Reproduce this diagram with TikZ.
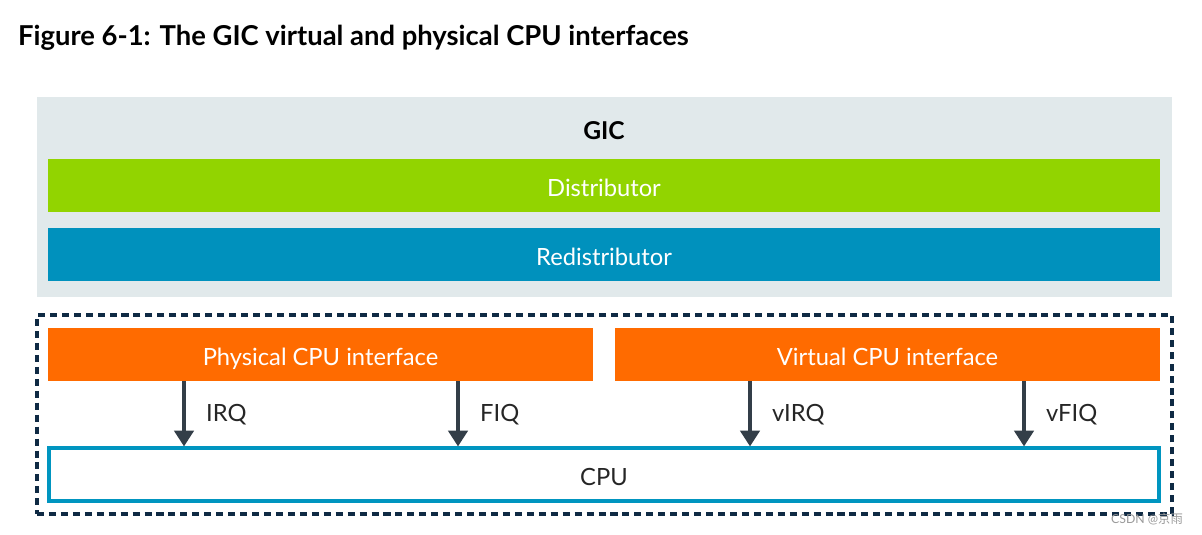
\documentclass[tikz,border=0pt]{standalone}
\usepackage{fontspec}
\setmainfont{Lato}
\newfontfamily\cjk{Noto Sans CJK SC}
\usetikzlibrary{positioning, arrows.meta, calc}

\definecolor{gicgrey}{HTML}{E1E9EB}
\definecolor{distgreen}{HTML}{92D400}
\definecolor{redistblue}{HTML}{0091BD}
\definecolor{ifaceorange}{HTML}{FF6B00}
\definecolor{cpublue}{HTML}{0095C0}
\definecolor{dashnavy}{HTML}{0F2A44}
\definecolor{arrowgrey}{HTML}{333E48}

\begin{document}
\begin{tikzpicture}[
  x=0.02cm, y=-0.02cm,
  bar/.style={minimum width=1112*0.02cm, minimum height=53*0.02cm, inner sep=0, text=white, text height=12pt, text depth=0pt, font=\fontsize{13.5}{16}\selectfont},
  half/.style={bar, minimum width=545*0.02cm, fill=ifaceorange},
  irq/.style={-{Triangle[width=11pt,length=9pt]}, line width=2pt, arrowgrey},
  irqlabel/.style={anchor=west, text height=12pt, text depth=0pt, font=\fontsize{13.5}{16}\selectfont, text=black!85},
  ]

  \useasboundingbox (0,0) rectangle (1202,534);

  \node[anchor=west, font=\fontsize{15.6}{18}\selectfont\bfseries] (title) at (12,38) {Figure 6-1: The GIC virtual and physical CPU interfaces};

  % GIC block
  \node[fill=gicgrey, minimum width=1135*0.02cm, minimum height=200*0.02cm, inner sep=0] (gic) at (604.5,197) {};
  \node[font=\fontsize{14}{16}\selectfont\bfseries] (giclabel) at (604,131) {GIC};
  \node[bar, fill=distgreen] (dist) at (604,185.5) {Distributor};
  \node[bar, fill=redistblue] (redist) at (604,254.5) {Redistributor};

  % CPU side
  \node[draw=dashnavy, dash pattern=on 4pt off 2.8pt, line width=2.2pt, minimum width=1135*0.02cm, minimum height=199*0.02cm, inner sep=0] (core) at (604.5,414.5) {};
  \node[half] (phys) at (320.5,354.5) {Physical CPU interface};
  \node[half] (virt) at (887.5,354.5) {Virtual CPU interface};
  \node[bar, draw=cpublue, line width=1.8pt, text=black!85, minimum width=1110*0.02cm, minimum height=53*0.02cm] (cpu) at (604,474.5) {CPU};

  % interrupt lines
  \foreach \x/\name/\src in {184/IRQ/phys, 458/FIQ/phys, 750/vIRQ/virt, 1024/vFIQ/virt} {
    \coordinate (c\name) at (\x,0);
    \draw[irq] (\src.south -| c\name) -- (cpu.north -| c\name);
    \node[irqlabel] (l\name) at (\x+16,411) {\name};
  }

  \node[anchor=east, text=black!40, font=\fontsize{7}{8}\selectfont] (mark) at (1189,519) {CSDN @{\cjk 京雨}};

\end{tikzpicture}
\end{document}
